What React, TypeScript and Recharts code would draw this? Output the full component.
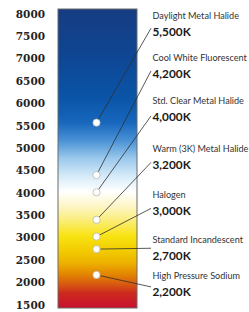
import React from 'react';
import { ComposedChart, XAxis, YAxis, ReferenceArea, ReferenceLine, Scatter } from 'recharts';

// ---- data ----
const tickValues = [1500, 2000, 2500, 3000, 3500, 4000, 4500, 5000, 5500, 6000, 6500, 7000, 7500, 8000];
const lampNames = [
  'Daylight Metal Halide',
  'Cool White Fluorescent',
  'Std. Clear Metal Halide',
  'Warm (3K) Metal Halide',
  'Halogen',
  'Standard Incandescent',
  'High Pressure Sodium',
];
const lampKelvinLabels = ['5,500K', '4,200K', '4,000K', '3,200K', '3,000K', '2,700K', '2,200K'];
// where each white dot sits on the kelvin scale
const dotPositions = [5570, 4400, 4015, 3400, 3025, 2745, 2170];
// kelvin-scale height of each value label and of each leader line's end
const labelPositions = [7598, 6659, 5699, 4627, 3605, 2593, 1796];
const leaderEnds = [7680, 6727, 5721, 4682, 3655, 2765, 1901];

// ---- layout (plot x units = px from plot left) ----
const Y_DOMAIN: [number, number] = [1430, 8110];
const X_DOMAIN: [number, number] = [0, 191];
const BAR_X1 = 0;
const BAR_X2 = 79;
const LAMP_X = 38.5;
const LEADER_X = 93;
const LABEL_X = 94.5;

const dots = dotPositions.map((y, i) => ({ x: LAMP_X, y, name: lampNames[i] }));
const labels = labelPositions.map((y, i) => ({ x: LABEL_X, y, name: lampNames[i], k: lampKelvinLabels[i] }));

const gradientStops: [number, string][] = [
  [0, '#163c82'],
  [0.15, '#0f4592'],
  [0.3, '#0a55a8'],
  [0.38, '#1767bd'],
  [0.44, '#4a92d6'],
  [0.5, '#9bc9ec'],
  [0.56, '#d6ebf8'],
  [0.61, '#ffffff'],
  [0.66, '#fdf5c6'],
  [0.7, '#fbee86'],
  [0.76, '#f8e312'],
  [0.81, '#f2cb00'],
  [0.85, '#edb100'],
  [0.885, '#e38800'],
  [0.92, '#d85a10'],
  [0.95, '#cc2a1e'],
  [1, '#c8102e'],
];

const BarShape = (props: any) => {
  const { x, y, width, height } = props;
  return (
    <g>
      <defs>
        <linearGradient id="kelvinGrad" x1="0" y1="0" x2="0" y2="1">
          {gradientStops.map(([o, c]) => (
            <stop key={o} offset={o} stopColor={c} />
          ))}
        </linearGradient>
      </defs>
      <rect x={x} y={y} width={width} height={height} fill="url(#kelvinGrad)" stroke="#6a6a6a" strokeWidth={1} />
    </g>
  );
};

const DotShape = (props: any) => {
  const { cx, cy } = props;
  return <circle cx={cx} cy={cy} r={3.6} fill="#ffffff" stroke="#b8b8b8" strokeWidth={0.8} />;
};

const LabelShape = (props: any) => {
  const { cx, cy, payload } = props;
  return (
    <g>
      <text x={cx} y={cy - 16} dy="0.35em" fontFamily="Lato, 'Open Sans', sans-serif" fontSize={9.1} fill="#333">
        {payload.name}
      </text>
      <text x={cx} y={cy} dy="0.36em" fontFamily="Lato, 'Open Sans', sans-serif" fontWeight="bold" fontSize={11.8} fill="#1a1a1a">
        {payload.k}
      </text>
    </g>
  );
};

export default function App() {
  return (
    <div style={{ position: 'absolute', left: 0, top: 0, width: 249, height: 312, background: '#fff' }}>
      <ComposedChart width={249} height={312} margin={{ top: 9, right: 0, bottom: 4, left: 0 }}>
        <XAxis type="number" dataKey="x" domain={X_DOMAIN} hide allowDataOverflow />
        <YAxis
          type="number"
          dataKey="y"
          domain={Y_DOMAIN}
          ticks={tickValues}
          allowDataOverflow
          width={58}
          axisLine={false}
          tickLine={false}
          tickSize={0}
          tickMargin={13}
          interval={0}
          tick={{ fontFamily: "'DejaVu Serif', serif", fontWeight: 'bold', fontSize: 10.5, fill: '#222' }}
        />
        <ReferenceArea x1={BAR_X1} x2={BAR_X2} y1={Y_DOMAIN[0]} y2={Y_DOMAIN[1]} shape={BarShape} ifOverflow="visible" />
        {dotPositions.map((d, i) => (
          <ReferenceLine
            key={i}
            segment={[
              { x: LAMP_X, y: d },
              { x: LEADER_X, y: leaderEnds[i] },
            ]}
            stroke="#2e2e2e"
            strokeWidth={0.8}
            ifOverflow="visible"
          />
        ))}
        <Scatter data={dots} shape={DotShape} isAnimationActive={false} />
        <Scatter data={labels} shape={LabelShape} isAnimationActive={false} />
      </ComposedChart>
    </div>
  );
}
